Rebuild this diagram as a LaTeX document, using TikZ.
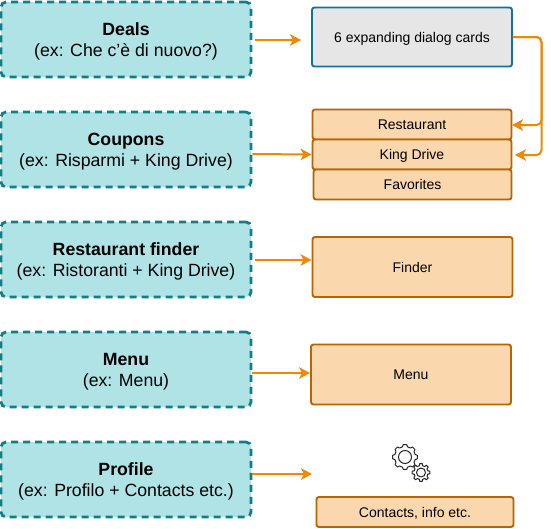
\documentclass[tikz,border=0pt]{standalone}
\usepackage{fontspec}
\setmainfont{Liberation Sans}
\usetikzlibrary{arrows.meta}
\definecolor{tealfill}{HTML}{B0E3E6}
\definecolor{tealline}{HTML}{0E8088}
\definecolor{orfill}{HTML}{FAD7AC}
\definecolor{orline}{HTML}{B46504}
\definecolor{grfill}{HTML}{E6E6E6}
\definecolor{blline}{HTML}{10739E}
\definecolor{arrowc}{HTML}{F08705}
\tikzset{
  x=1pt,y=-1pt,
  section/.style={draw=tealline,fill=tealfill,line width=2.8pt,dash pattern=on 7pt off 5pt,rounded corners=5pt,minimum width=250pt,minimum height=75pt,align=center,inner sep=0pt,font=\fontsize{17.7}{20.5}\selectfont},
  orbox/.style={draw=orline,fill=orfill,line width=1.9pt,rounded corners=2.5pt,inner sep=0pt,align=center,text height=12pt,text depth=2pt,font=\fontsize{14}{16}\selectfont},
  greybox/.style={orbox,draw=blline,fill=grfill},
  link/.style={draw=arrowc,line width=2pt,-{Stealth[length=11pt,width=11.5pt,inset=3pt]}},
  gearline/.style={draw=black!85,line width=1pt,line join=round}
}
\newcommand{\firstline}{\rule{0pt}{16.3pt}}
\newcommand{\gearshape}[3]{% centre, outer radius, hole radius
  \begin{scope}[shift={#1}]
    \draw[gearline] (-14:#2-2) \foreach \a in {0,45,...,315} {
      -- (\a-14:#2-2) -- (\a-8:#2) -- (\a+8:#2) -- (\a+14:#2-2) } -- cycle;
    \draw[gearline] (0,0) circle[radius=#3];
  \end{scope}}
\begin{document}
\begin{tikzpicture}
\useasboundingbox (0,0) rectangle (551,528);
\node[section] (deals) at (126,39.5) {\firstline\textbf{Deals}\\(ex: Che c'è di nuovo?)};
\node[section] (coupons) at (126,149.5) {\firstline\textbf{Coupons}\\(ex: Risparmi + King Drive)};
\node[section] (finder) at (126,259.5) {\firstline\textbf{Restaurant finder}\\(ex: Ristoranti + King Drive)};
\node[section] (menu) at (126,369.5) {\firstline\textbf{Menu}\\(ex: Menu)};
\node[section] (profile) at (126,479.5) {\firstline\textbf{Profile}\\(ex: Profilo + Contacts etc.)};

\node[greybox,minimum width=200pt,minimum height=59pt] (cards) at (412,37) {6 expanding dialog cards};
\node[orbox,minimum width=199pt,minimum height=30pt] (rest) at (412,124.5) {Restaurant};
\node[orbox,minimum width=199pt,minimum height=30pt] (king) at (412,154.5) {King Drive};
\node[orbox,minimum width=198pt,minimum height=30pt] (fav) at (412.5,184.5) {Favorites};
\node[orbox,minimum width=200pt,minimum height=60pt] (find) at (412.5,267) {Finder};
\node[orbox,minimum width=200pt,minimum height=60pt] (men) at (411,374.5) {Menu};
\node[orbox,minimum width=197pt,minimum height=30pt] (cont) at (415,512) {Contacts, info etc.};

\coordinate (gearin) at (312,474);
\coordinate (dealsout) at (255,40);
\coordinate (cardsin) at (301,40);
\coordinate (finderout) at (255,260);
\coordinate (restin) at (512,125);
\coordinate (kingin) at (515,155);

\draw[link] (dealsout) -- (cardsin);
\draw[link] (coupons.east) ++(0,4.5) -- (king.west);
\draw[link] (finderout) -- (find.west |- finderout);
\draw[link] (menu.east) ++(0,3.5) -- (men.west |- 0,373);
\draw[link] (profile.east) ++(0,-5.5) -- (gearin);
\draw[link,rounded corners=5pt] (cards.east) -- (541.5,37) -- (541.5,125) -- (restin);
\draw[link,rounded corners=5pt] (cards.east) -- (541.5,37) -- (541.5,155) -- (kingin);

\gearshape{(405,457)}{12.5}{6.5}
\gearshape{(421,472.5)}{9}{4.5}
\end{tikzpicture}
\end{document}
